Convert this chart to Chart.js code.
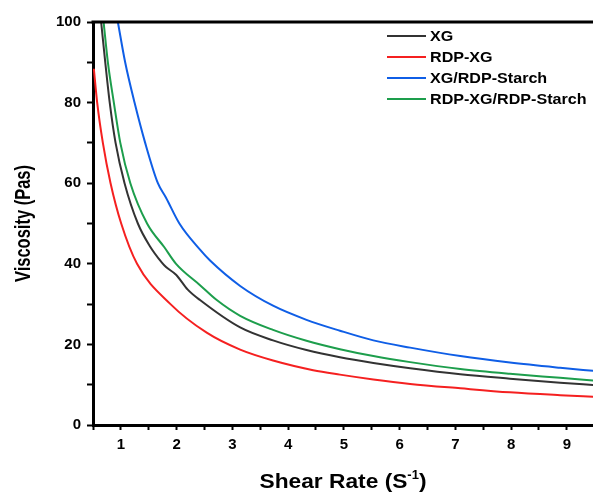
<!DOCTYPE html>
<html>
<head>
<meta charset="utf-8">
<script src="https://cdn.jsdelivr.net/npm/chart.js@4.4.1/dist/chart.umd.min.js"></script>
<style>
  html, body { margin: 0; padding: 0; background: #fff; }
</style>
</head>
<body>
<canvas id="chart" width="593" height="493"></canvas>
<script>
// --- data (shear rate in 1/s, viscosity in Pa·s) ---
const seriesNames = ["XG", "RDP-XG", "XG/RDP-Starch", "RDP-XG/RDP-Starch"];
const seriesColors = ["#333333", "#f52020", "#0f5ee6", "#1d9e4c"];

const xgRate = [0.646, 0.72, 0.8, 0.905, 1.066, 1.305, 1.515, 1.736, 1.81, 1.99, 2.2, 2.42, 3.14, 3.73, 4.33, 4.93, 5.53, 6.19, 7.09, 7.98, 8.88, 9.5];
const xgVisc = [100, 90, 80, 70, 60, 50, 44.5, 40.3, 39.2, 37.3, 33.6, 31.0, 24.2, 21.0, 18.6, 16.8, 15.4, 14.1, 12.6, 11.5, 10.5, 9.9];

const rdpXgRate = [0.515, 0.575, 0.677, 0.815, 1.006, 1.29, 1.89, 2.54, 3.14, 3.73, 4.45, 4.93, 5.53, 6.19, 7.09, 7.98, 8.88, 9.5];
const rdpXgVisc = [88.4, 80, 70, 60, 50, 40, 30, 22.9, 18.7, 16.0, 13.6, 12.5, 11.3, 10.2, 9.1, 8.1, 7.4, 7.0];

const xgStarchRate = [0.946, 1.077, 1.245, 1.436, 1.664, 1.81, 2.05, 2.42, 2.6, 3.14, 3.73, 4.33, 4.93, 5.53, 6.19, 7.09, 7.98, 8.88, 9.5];
const xgStarchVisc = [100, 90, 80, 70, 60, 56.4, 50, 43.5, 40.8, 34.5, 29.6, 26.1, 23.4, 21.0, 19.2, 17.1, 15.5, 14.2, 13.4];

const rdpStarchRate = [0.69, 0.767, 0.874, 0.99, 1.17, 1.47, 1.78, 1.99, 2.42, 2.72, 3.14, 3.73, 4.33, 4.93, 5.53, 6.19, 7.09, 7.98, 8.88, 9.5];
const rdpStarchVisc = [100, 90, 80, 70, 60, 50, 44.1, 40, 34.7, 31.0, 27.1, 23.6, 20.9, 18.8, 17.1, 15.6, 13.9, 12.7, 11.7, 11.0];

const xTicks = [0.5, 1, 1.5, 2, 2.5, 3, 3.5, 4, 4.5, 5, 5.5, 6, 6.5, 7, 7.5, 8, 8.5, 9];
const yTicks = [0, 10, 20, 30, 40, 50, 60, 70, 80, 90, 100];

const xTitle = "Shear Rate (S";
const xTitleSup = "-1";
const yTitle = "Viscosity (Pas)";

function toPoints(xs, ys) {
  return xs.map((x, i) => ({ x: x, y: ys[i] }));
}

const rates = [xgRate, rdpXgRate, xgStarchRate, rdpStarchRate];
const viscs = [xgVisc, rdpXgVisc, xgStarchVisc, rdpStarchVisc];

const datasets = seriesNames.map((name, i) => ({
  label: name,
  data: toPoints(rates[i], viscs[i]),
  borderColor: seriesColors[i],
  borderWidth: 2,
  pointRadius: 0,
  fill: false,
  cubicInterpolationMode: "monotone",
}));

// draws top frame line, axis titles and the in-plot legend
const decor = {
  id: "decor",
  afterDraw(chart) {
    const { ctx, chartArea: a } = chart;
    ctx.save();

    // top frame
    ctx.strokeStyle = "#000";
    ctx.lineWidth = 3;
    ctx.beginPath();
    ctx.moveTo(a.left - 1.5, a.top);
    ctx.lineTo(a.right, a.top);
    ctx.stroke();

    ctx.fillStyle = "#000";
    ctx.textBaseline = "alphabetic";

    // x title with superscript
    ctx.font = "bold 21px Arial, 'Liberation Sans', sans-serif";
    const mainW = ctx.measureText(xTitle).width;
    ctx.font = "bold 12px Arial, 'Liberation Sans', sans-serif";
    const supW = ctx.measureText(xTitleSup).width;
    ctx.font = "bold 21px Arial, 'Liberation Sans', sans-serif";
    const closeW = ctx.measureText(")").width;
    const natural = mainW + supW + closeW;
    const sx = 167 / natural;
    const cx = (a.left + a.right) / 2;
    ctx.save();
    ctx.translate(cx - 167 / 2, 488);
    ctx.scale(sx, 1);
    ctx.textAlign = "left";
    ctx.fillText(xTitle, 0, 0);
    ctx.font = "bold 12px Arial, 'Liberation Sans', sans-serif";
    ctx.fillText(xTitleSup, mainW, -9);
    ctx.font = "bold 21px Arial, 'Liberation Sans', sans-serif";
    ctx.fillText(")", mainW + supW, 0);
    ctx.restore();

    // y title
    ctx.font = "bold 22px Arial, 'Liberation Sans', sans-serif";
    const yW = ctx.measureText(yTitle).width;
    const sy = 117 / yW;
    ctx.save();
    ctx.translate(30, (a.top + a.bottom) / 2);
    ctx.rotate(-Math.PI / 2);
    ctx.scale(sy, 1);
    ctx.textAlign = "center";
    ctx.fillText(yTitle, 0, 0);
    ctx.restore();

    // legend
    ctx.font = "bold 14px Arial, 'Liberation Sans', sans-serif";
    ctx.textBaseline = "middle";
    ctx.textAlign = "left";
    chart.data.datasets.forEach((ds, i) => {
      const y = 36 + i * 21;
      ctx.strokeStyle = ds.borderColor;
      ctx.lineWidth = 2;
      ctx.beginPath();
      ctx.moveTo(387, y);
      ctx.lineTo(426, y);
      ctx.stroke();
      ctx.save();
      ctx.translate(430, y + 1);
      ctx.scale(1.15, 1);
      ctx.fillStyle = "#000";
      ctx.fillText(ds.label, 0, 0);
      ctx.restore();
    });

    ctx.restore();
  },
};

const tickFont = { family: "Arial, 'Liberation Sans', sans-serif", size: 15, weight: "bold" };

new Chart(document.getElementById("chart"), {
  type: "line",
  data: { datasets: datasets },
  options: {
    responsive: false,
    animation: false,
    layout: { padding: { top: 22, right: 0, bottom: 0, left: 0 } },
    plugins: { legend: { display: false }, tooltip: { enabled: false } },
    scales: {
      x: {
        type: "linear",
        min: 0.5,
        max: 9.47,
        afterBuildTicks: (scale) => {
          scale.ticks = xTicks.map((v) => ({ value: v }));
        },
        afterFit: (scale) => {
          scale.height = 68;
        },
        grid: { drawOnChartArea: false, drawTicks: true, tickLength: 5, tickWidth: 2, color: "#000" },
        border: { display: true, color: "#000", width: 3 },
        ticks: {
          color: "#000",
          font: tickFont,
          padding: 6,
          maxRotation: 0,
          autoSkip: false,
          callback: (v) => (Number.isInteger(v) && v >= 1 ? String(v) : ""),
        },
        title: { display: false },
      },
      y: {
        type: "linear",
        min: 0,
        max: 100,
        afterBuildTicks: (scale) => {
          scale.ticks = yTicks.map((v) => ({ value: v }));
        },
        afterFit: (scale) => {
          scale.width = 93;
        },
        grid: { drawOnChartArea: false, drawTicks: true, tickLength: 6, tickWidth: 2, color: "#000" },
        border: { display: true, color: "#000", width: 3 },
        ticks: {
          color: "#000",
          font: tickFont,
          padding: 6,
          autoSkip: false,
          callback: (v) => (v % 20 === 0 ? String(v) : ""),
        },
        title: { display: false },
      },
    },
  },
  plugins: [decor],
});
</script>
</body>
</html>
